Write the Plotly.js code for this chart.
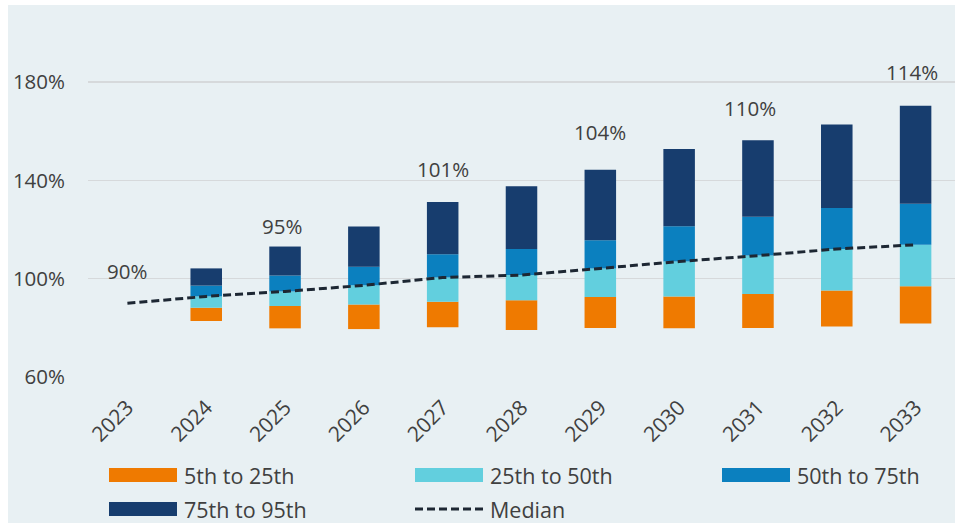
<!DOCTYPE html>
<html>
<head>
<meta charset="utf-8">
<script src="https://cdn.plot.ly/plotly-3.0.1.min.js"></script>
<style>
html,body{margin:0;padding:0;background:#ffffff;width:955px;height:523px;overflow:hidden}
#chart{position:absolute;left:8px;top:5px;width:947px;height:518px}
</style>
</head>
<body>
<div id="chart"></div>
<script>
// ---- data ----
var years = ['2023','2024','2025','2026','2027','2028','2029','2030','2031','2032','2033'];
var p5  = [null, 82.8, 79.8, 79.5, 80.2, 79.1, 79.9, 79.8, 79.9, 80.6, 81.8];
var p25 = [null, 88.2, 88.9, 89.5, 90.6, 91.2, 92.6, 92.8, 93.8, 95.2, 96.9];
var p50 = [90.0, 92.8, 94.8, 97.3, 100.5, 101.5, 104.2, 107.0, 109.4, 112.1, 113.8];
var p75 = [null, 97.2, 101.3, 104.9, 110.0, 112.1, 115.7, 121.4, 125.2, 128.8, 130.5];
var p95 = [null, 104.2, 113.1, 121.3, 131.2, 137.6, 144.3, 152.8, 156.4, 162.8, 170.4];
var seriesNames = ['5th to 25th','25th to 50th','50th to 75th','75th to 95th','Median'];
var labelYears = ['2023','2025','2027','2029','2031','2033'];
var labelText  = ['90%','95%','101%','104%','110%','114%'];
var yTickVals = [60, 100, 140, 180];
var yTickText = ['60%','100%','140%','180%'];

// ---- styles ----
var colors = ['#EF7A00', '#62CFDE', '#0B80BF', '#173D6E'];
var lineColor = '#1D2733';
var textColor = '#404040';
var FONT = '"Open Sans", "Noto Sans", sans-serif';

function diff(a, b){ return a.map(function(v,i){ return (v==null||b[i]==null)?null:(v-b[i]); }); }
var lows = [p5, p25, p50, p75];
var highs = [p25, p50, p75, p95];

var traces = [];
for (var k = 0; k < 4; k++) {
  traces.push({
    type: 'bar', x: years, y: diff(highs[k], lows[k]), base: lows[k],
    name: seriesNames[k], width: 0.4,
    marker: {color: colors[k], line: {width: 0}},
    showlegend: false, hoverinfo: 'skip'
  });
}
traces.push({
  type: 'scatter', mode: 'lines', x: years, y: p50, name: seriesNames[4],
  line: {color: lineColor, width: 3, dash: '8px,4px'},
  showlegend: false, hoverinfo: 'skip'
});

// label placement (layout only)
var labelY = [103.0, 121.6, 144.8, 159.9, 169.3, 184.3];
var labelShift = [0, -3, 0, 0, -8, -4];
var annotations = labelYears.map(function(yr, i){
  return {x: years.indexOf(yr), y: labelY[i], xref: 'x', yref: 'y', text: labelText[i], showarrow: false,
          xshift: labelShift[i], font: {family: FONT, size: 20.5, color: textColor}};
});

// custom legend (pixel positions in page coords -> paper coords)
function px(X){ return (X - 88) / 867; }
function py(Y){ return (377 - Y) / 344; }
var legCols = [109, 415, 722];
var legRows = [475, 509];
var legSlots = [[0,0],[1,0],[2,0],[0,1],[1,1]];
var shapes = [];
legSlots.forEach(function(s, i){
  var X = legCols[s[0]], Y = legRows[s[1]];
  if (i < 4) {
    shapes.push({type:'rect', xref:'paper', yref:'paper', x0: px(X), x1: px(X+68),
      y0: py(Y-7), y1: py(Y+7), fillcolor: colors[i], line:{width:0}});
  } else {
    shapes.push({type:'line', xref:'paper', yref:'paper', x0: px(X), x1: px(X+68),
      y0: py(Y), y1: py(Y), line:{color: lineColor, width: 3, dash: '8px,4px'}});
  }
  annotations.push({xref:'paper', yref:'paper', x: px(X+73), y: py(Y), xanchor:'left', yanchor:'middle',
    text: seriesNames[i], showarrow:false, font:{family: FONT, size: 21.5, color: textColor}});
});

var layout = {
  width: 947, height: 518,
  margin: {l: 80, r: 0, t: 28, b: 146, pad: 0},
  paper_bgcolor: '#E8F0F3', plot_bgcolor: '#E8F0F3',
  barmode: 'overlay', bargap: 0.6,
  showlegend: false, hovermode: false,
  font: {family: FONT, size: 20, color: textColor},
  xaxis: {type: 'category', range: [-0.5, 10.5], tickangle: -45, showgrid: false, zeroline: false,
          showline: false, ticks: '', ticklabelstandoff: 13,
          tickfont: {family: FONT, size: 21, color: textColor}},
  yaxis: {range: [60, 200], tickvals: yTickVals, ticktext: yTickText, showgrid: true,
          gridcolor: '#D6D9DB', gridwidth: 1.5, zeroline: false, showline: false, ticks: '',
          ticklabelstandoff: 22, tickfont: {family: FONT, size: 20.5, color: textColor}},
  annotations: annotations,
  shapes: shapes
};

Plotly.newPlot('chart', traces, layout, {displayModeBar: false, staticPlot: true});
</script>
</body>
</html>
